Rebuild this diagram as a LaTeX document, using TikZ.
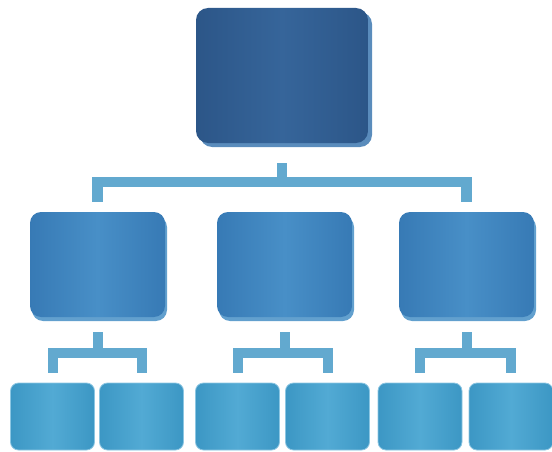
\documentclass[tikz,border=0pt]{standalone}
\usetikzlibrary{shadows}
\definecolor{topedge}{HTML}{2C5688}
\definecolor{topmid}{HTML}{36659A}
\definecolor{topshadow}{HTML}{5A8CBC}
\definecolor{midedge}{HTML}{377AB5}
\definecolor{midmid}{HTML}{488FC7}
\definecolor{midshadow}{HTML}{62A0CE}
\definecolor{botedge}{HTML}{3C97C4}
\definecolor{botmid}{HTML}{52AAD4}
\definecolor{botline}{HTML}{8CC6E2}
\definecolor{conncol}{HTML}{62A9CF}
\tikzset{
  topbox/.style={rectangle, rounded corners=12pt, inner sep=0pt,
    minimum width=172pt, minimum height=135pt,
    left color=topedge, right color=topedge, middle color=topmid,
    drop shadow={shadow xshift=4pt, shadow yshift=-4pt, fill=topshadow, opacity=1}},
  midbox/.style={rectangle, rounded corners=11pt, inner sep=0pt,
    minimum width=135pt, minimum height=105pt,
    left color=midedge, right color=midedge, middle color=midmid,
    drop shadow={shadow xshift=2pt, shadow yshift=-4pt, fill=midshadow, opacity=1}},
  botbox/.style={rectangle, rounded corners=8pt, inner sep=0pt,
    minimum width=84pt, minimum height=67pt,
    left color=botedge, right color=botedge, middle color=botmid,
    draw=botline, line width=0.8pt},
  conn/.style={draw=conncol, line width=10.5pt, line join=miter, line cap=butt},
  connsm/.style={draw=conncol, line width=10pt, line join=miter, line cap=butt}
}
\begin{document}
\begin{tikzpicture}[x=1pt,y=-1pt]
\useasboundingbox (0,0) rectangle (552,452);
\node[topbox] (T) at (282,75.5) {};
\node[midbox] (M1) at (97.5,264.5) {};
\node[midbox] (M2) at (284.5,264.5) {};
\node[midbox] (M3) at (466.5,264.5) {};
\node[botbox] (B1) at (52.5,416.5) {};
\node[botbox] (B2) at (141.5,416.5) {};
\node[botbox] (B3) at (237.5,416.5) {};
\node[botbox] (B4) at (327.5,416.5) {};
\node[botbox] (B5) at (420,416.5) {};
\node[botbox] (B6) at (511,416.5) {};
% top level connectors
\draw[conn] ([yshift=10pt]M1.north) |- ([yshift=-39pt]T.south) -| ([yshift=10pt]M3.north);
\draw[conn] ([yshift=-20pt]T.south) -- ([yshift=-39pt]T.south);
% lower connectors
\draw[connsm] ([yshift=10pt]B1.north) |- ([yshift=-36pt]M1.south) -| ([yshift=10pt]B2.north);
\draw[connsm] ([yshift=-15pt]M1.south) -- ([yshift=-36pt]M1.south);
\draw[connsm] ([yshift=10pt]B3.north) |- ([yshift=-36pt]M2.south) -| ([yshift=10pt]B4.north);
\draw[connsm] ([yshift=-15pt]M2.south) -- ([yshift=-36pt]M2.south);
\draw[connsm] ([yshift=10pt]B5.north) |- ([yshift=-36pt]M3.south) -| ([yshift=10pt]B6.north);
\draw[connsm] ([yshift=-15pt]M3.south) -- ([yshift=-36pt]M3.south);
\end{tikzpicture}
\end{document}
